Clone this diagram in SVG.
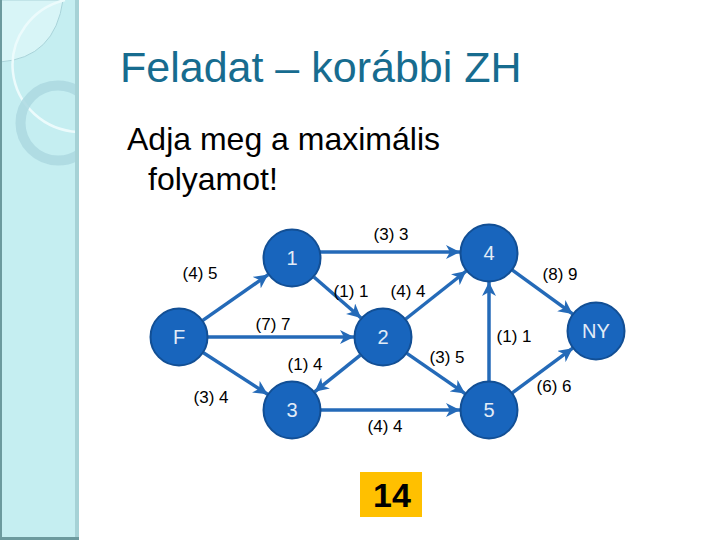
<svg xmlns="http://www.w3.org/2000/svg" width="720" height="540" viewBox="0 0 720 540">
<defs>
<marker id="ah" markerUnits="userSpaceOnUse" markerWidth="16" markerHeight="14" refX="14" refY="7" orient="auto">
<path d="M0,0 L14,7 L0,14 L4,7 z" fill="#246ab8"/>
</marker>
<clipPath id="sb"><rect x="0" y="0" width="78" height="540"/></clipPath>
<style>
.node circle{fill:#1865bd;stroke:#124f95;stroke-width:2}
.node text{fill:#e2ecf7;font-family:"Liberation Sans",Arial,sans-serif;font-size:20px;text-anchor:middle}
.edge{stroke:#246ab8;stroke-width:3.5;fill:none;marker-end:url(#ah)}
.lbl{font-family:"Liberation Sans",Arial,sans-serif;font-size:17px;fill:#000;text-anchor:middle}
</style>
</defs>
<rect width="720" height="540" fill="#ffffff"/>
<g id="sidebar">
<rect x="0" y="0" width="79" height="540" fill="#c5eef1"/>
<g clip-path="url(#sb)">
<path d="M0,62 Q55,58 63,0 L0,0 z" fill="#d8f5f7" stroke="#a9d4da" stroke-width="1"/>
<path d="M65,0 A69,67 0 0 0 79,132" fill="none" stroke="#ecfbfc" stroke-width="2.5"/>
<circle cx="58" cy="123" r="37.5" fill="none" stroke="#acd8e0" stroke-width="10" opacity="0.85"/>
</g>
<rect x="75" y="0" width="4" height="540" fill="#a6d2d6"/>
<rect x="0" y="0" width="2" height="540" fill="#6c9a9e"/>
<rect x="0" y="537" width="79" height="3" fill="#6c9a9e"/>
</g>
<text x="120" y="82" font-family="'Liberation Sans',Arial,sans-serif" font-size="43" fill="#176c8f">Feladat – korábbi ZH</text>
<text x="127" y="150" font-family="'Liberation Sans',Arial,sans-serif" font-size="32" fill="#000">Adja meg a maximális</text>
<text x="148" y="190" font-family="'Liberation Sans',Arial,sans-serif" font-size="32" fill="#000">folyamot!</text>
<g id="connectors">
<line class="edge" x1="202.8" y1="320.4" x2="268.2" y2="274.6"/>
<line class="edge" x1="320" y1="252" x2="460" y2="252"/>
<line class="edge" x1="313.9" y1="277" x2="361.1" y2="318"/>
<line class="edge" x1="208" y1="337" x2="354" y2="337"/>
<line class="edge" x1="405.7" y1="319" x2="466.3" y2="271"/>
<line class="edge" x1="406.9" y1="353.4" x2="465.1" y2="393.6"/>
<line class="edge" x1="203.4" y1="352.7" x2="267.6" y2="394.3"/>
<line class="edge" x1="360.4" y1="355.2" x2="314.6" y2="391.8"/>
<line class="edge" x1="321" y1="410" x2="460" y2="410"/>
<line class="edge" x1="489" y1="381" x2="489" y2="282"/>
<line class="edge" x1="512.4" y1="270.1" x2="572.6" y2="313.9"/>
<line class="edge" x1="512.3" y1="392.8" x2="572.7" y2="348.2"/>
</g>
<g id="labels">
<text class="lbl" x="391" y="240">(3) 3</text>
<text class="lbl" x="200" y="279">(4) 5</text>
<text class="lbl" x="351" y="297">(1) 1</text>
<text class="lbl" x="408" y="297">(4) 4</text>
<text class="lbl" x="273" y="330">(7) 7</text>
<text class="lbl" x="305" y="370">(1) 4</text>
<text class="lbl" x="211" y="403">(3) 4</text>
<text class="lbl" x="385" y="432">(4) 4</text>
<text class="lbl" x="447" y="363">(3) 5</text>
<text class="lbl" x="560" y="280">(8) 9</text>
<text class="lbl" x="514" y="342">(1) 1</text>
<text class="lbl" x="554" y="392">(6) 6</text>
</g>
<g id="node-F" class="node"><circle cx="179" cy="337" r="28.5"/><text x="179" y="344">F</text></g>
<g id="node-1" class="node"><circle cx="292" cy="258" r="28.5"/><text x="292" y="265">1</text></g>
<g id="node-2" class="node"><circle cx="383" cy="337" r="28.5"/><text x="383" y="344">2</text></g>
<g id="node-3" class="node"><circle cx="292" cy="410" r="28.5"/><text x="292" y="417">3</text></g>
<g id="node-4" class="node"><circle cx="489" cy="253" r="28.5"/><text x="489" y="260">4</text></g>
<g id="node-5" class="node"><circle cx="489" cy="410" r="28.5"/><text x="489" y="417">5</text></g>
<g id="node-NY" class="node"><circle cx="596" cy="331" r="28.5"/><text x="596" y="338">NY</text></g>
<g id="result">
<rect x="360" y="472" width="62" height="45" fill="#ffc000"/>
<text x="392" y="507" font-family="'Liberation Sans',Arial,sans-serif" font-size="34" font-weight="bold" fill="#000" text-anchor="middle">14</text>
</g>
</svg>
